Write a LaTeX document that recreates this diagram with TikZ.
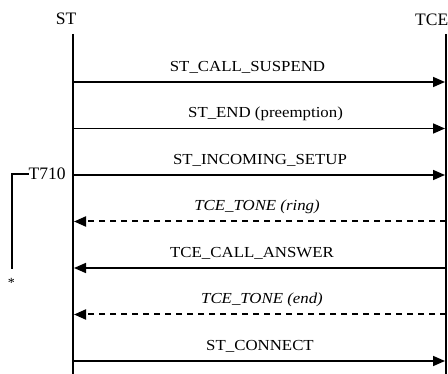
\documentclass[tikz,border=0pt]{standalone}
\usepackage{fontspec}
\setmainfont{Liberation Serif}
\usetikzlibrary{arrows.meta}
\newcommand{\msgtxt}[1]{\scalebox{1.1}[1]{#1}}
\tikzset{
  lifeline/.style={line width=2pt},
  msg/.style={line width=1.6pt, -{Triangle[length=12pt,width=10pt]}},
  dmsg/.style={line width=2pt, dash pattern=on 6pt off 5pt, -{Triangle[length=12pt,width=10pt]}},
  head/.style={font=\fontsize{17.5}{20}\selectfont, inner sep=0pt},
  lbl/.style={font=\fontsize{15.3}{18}\selectfont, inner sep=0pt, anchor=base},
  timer/.style={line width=1.7pt},
}
\begin{document}
\begin{tikzpicture}[x=1pt,y=-1pt]
\useasboundingbox (0,0) rectangle (448,374);
% headers
\node[head, anchor=base] (ST) at (66,25) {ST};
\node[head, anchor=base east] (TCE) at (448.5,26) {TCE};
% lifelines
\coordinate (sTop) at (73,34);
\coordinate (sBot) at (73,374);
\coordinate (tTop) at (446,34);
\coordinate (tBot) at (446,374);
\draw[lifeline] (sTop) -- (sBot);
\draw[lifeline] (tTop) -- (tBot);
% message endpoints
\foreach \i/\y in {1/82,2/128.5,3/175,4/221.5,5/268,6/314.5,7/361}{
  \coordinate (s\i) at (73,\y);
  \coordinate (t\i) at (446,\y);
  \coordinate (sa\i) at (74,\y);
  \coordinate (ta\i) at (445,\y);
}
\draw[msg] (s1) -- (ta1);
\draw[msg] (s2) -- (ta2);
\draw[msg] (s3) -- (ta3);
\draw[dmsg] (t4) -- (sa4);
\draw[msg] (t5) -- (sa5);
\draw[dmsg] (t6) -- (sa6);
\draw[msg] (s7) -- (ta7);
% labels
\node[lbl] (l1) at (247.5,71.5) {\msgtxt{ST\_CALL\_SUSPEND}};
\node[lbl] (l2) at (265.5,118) {\msgtxt{ST\_END (preemption)}};
\node[lbl] (l3) at (260,164.5) {\msgtxt{ST\_INCOMING\_SETUP}};
\node[lbl] (l4) at (257,211) {\msgtxt{\itshape TCE\_TONE (ring)}};
\node[lbl] (l5) at (252,257.5) {\msgtxt{TCE\_CALL\_ANSWER}};
\node[lbl] (l6) at (262,304) {\msgtxt{\itshape TCE\_TONE (end)}};
\node[lbl] (l7) at (260,350.5) {\msgtxt{ST\_CONNECT}};
% timer
\node[head, anchor=base west] (T710) at (28.5,180) {T710};
\coordinate (tmEnd) at (12,269);
\coordinate (tmCorner) at (12,174.3);
\draw[timer] (tmEnd) -- (tmCorner) -- (T710.west |- tmCorner);
\node[font=\fontsize{14}{15}\selectfont, inner sep=0pt] (ast) at (11.5,283) {*};
\end{tikzpicture}
\end{document}
